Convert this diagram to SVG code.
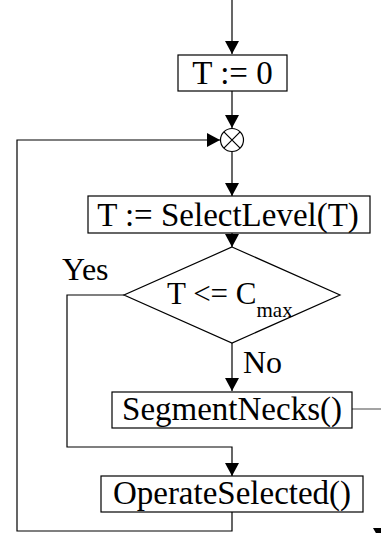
<svg xmlns="http://www.w3.org/2000/svg" width="381" height="533" viewBox="0 0 381 533">
<style>
.box{fill:#fff;stroke:#000;stroke-width:1.2}
.ln{fill:none;stroke:#000;stroke-width:1.2}
.t{font-family:"Liberation Serif","Times New Roman",serif;font-size:33px;fill:#000}
.lbl{font-family:"Liberation Serif","Times New Roman",serif;font-size:32px;fill:#000}
</style>
<defs>
<marker id="ah" markerWidth="14" markerHeight="14" viewBox="0 0 14 14" refX="13" refY="7" orient="auto" markerUnits="userSpaceOnUse">
<path d="M0,0 L13,7 L0,14 Z" fill="#000"/>
</marker>
</defs>
<rect width="381" height="533" fill="#fff"/>
<g id="connectors">
<path class="ln" d="M232,0 V54" marker-end="url(#ah)"/>
<path class="ln" d="M232,91 V128" marker-end="url(#ah)"/>
<path class="ln" d="M232,151 V196" marker-end="url(#ah)"/>
<path class="ln" d="M232,233 V247" marker-end="url(#ah)"/>
<path class="ln" d="M232,343 V391" marker-end="url(#ah)"/>
<path class="ln" d="M124,295 H67 V447 H232 V476" marker-end="url(#ah)"/>
<path class="ln" d="M232,512 V531 H17 V140 H220" marker-end="url(#ah)"/>
<path d="M352,409 H381" fill="none" stroke="#666" stroke-width="1.2"/>
<polygon points="373,528 388,528 380.5,541" fill="#000"/>
</g>
<g id="start">
<rect class="box" x="178" y="55" width="109" height="36"/>
<text class="t" x="232.5" y="84" text-anchor="middle">T := 0</text>
</g>
<g id="merge">
<circle cx="232" cy="140" r="11.5" fill="#fff" stroke="#000" stroke-width="1.2"/>
<path class="ln" d="M223.9,131.9 L240.1,148.1 M240.1,131.9 L223.9,148.1"/>
</g>
<g id="select">
<rect class="box" x="88" y="196" width="282" height="37"/>
<text class="t" x="228" y="226" text-anchor="middle">T := SelectLevel(T)</text>
</g>
<g id="decision">
<polygon class="box" points="232,247 340,295 232,343 124,295"/>
<text class="t" x="167" y="304" style="font-size:31px">T &lt;= C<tspan dy="13" style="font-size:21px">max</tspan></text>
</g>
<g id="labels">
<text class="lbl" x="62" y="280">Yes</text>
<text class="lbl" x="243" y="373">No</text>
</g>
<g id="segment">
<rect class="box" x="112" y="392" width="240" height="36"/>
<text class="t" x="232" y="420" text-anchor="middle">SegmentNecks()</text>
</g>
<g id="operate">
<rect class="box" x="101" y="476" width="262" height="36"/>
<text class="t" x="232" y="504" text-anchor="middle">OperateSelected()</text>
</g>
</svg>
